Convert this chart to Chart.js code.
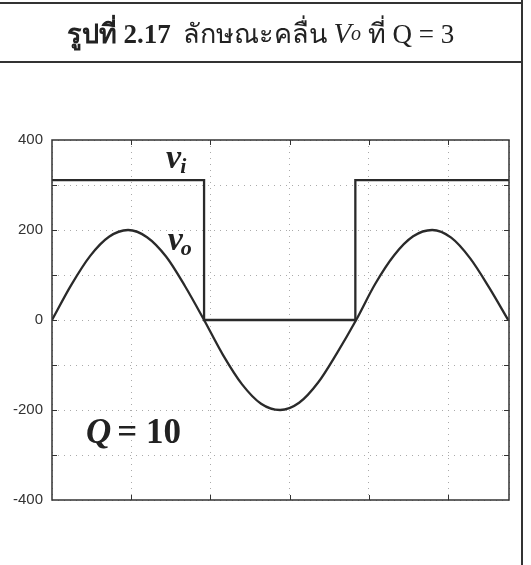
<!DOCTYPE html>
<html>
<head>
<meta charset="utf-8">
<script src="https://cdn.jsdelivr.net/npm/chart.js@4"></script>
<style>
    body { margin: 0; background: #fff; }
    #page { position: relative; width: 531px; height: 565px; overflow: hidden; }
    #waveChart { position: absolute; left: 0; top: 0; }
    .hline { position: absolute; left: 0; width: 523px; height: 2px; background: #333; }
    .vline { position: absolute; left: 521px; top: 0; width: 2px; height: 565px; background: #333; }
    #title {
        position: absolute; left: 0; top: 4px; width: 521px; height: 58px;
        display: flex; align-items: center; justify-content: center;
        font-family: 'Liberation Serif', 'Noto Serif', serif; font-size: 27px; color: #222;
    }
    #title b { margin-right: 12px; }
    #title .vo { font-size: 29px; }
    #title sub { font-size: 20px; vertical-align: -6px; }
</style>
</head>
<body>
<div id="page">
    <canvas id="waveChart" width="531" height="565"></canvas>
    <div class="hline" style="top: 2px;"></div>
    <div class="hline" style="top: 61px;"></div>
    <div class="vline"></div>
    <div id="title"><b>รูปที่ 2.17</b>ลักษณะคลื่น&nbsp;<i class="vo">V</i><sub><i>o</i></sub>&nbsp;ที่ Q = 3</div>
</div>
<script>
// time axis (grid divisions) and voltage axis
const timeMin = 0;
const timeMax = 5.77;
const voltMin = -400;
const voltMax = 400;

// square input voltage v_i (stepped)
const viTimes = [0, 1.92, 3.83, 5.77];
const viValues = [311, 0, 311, 311];

// output voltage v_o
const voTimes = [0, 0.24, 0.48, 0.72, 0.96, 1.2, 1.44, 1.68, 1.92, 2.16, 2.4, 2.64, 2.88,
    3.12, 3.36, 3.6, 3.84, 4.08, 4.32, 4.56, 4.8, 5.04, 5.28, 5.52, 5.76];
const voValues = [0, 77, 142, 185, 200, 184, 141, 75, 0, -78, -143, -186, -200,
    -184, -139, -73, 0, 80, 144, 186, 200, 183, 137, 72, 0];

const toPoints = (xs, ys) => xs.map((x, i) => ({ x: x, y: ys[i] }));

// inward tick marks, plot frame and the v_i / v_o / Q labels
const framePlugin = {
    id: 'frame',
    afterDatasetsDraw(chart) {
        const { ctx, chartArea: a, scales: { x, y } } = chart;
        ctx.save();
        ctx.strokeStyle = '#333';
        ctx.lineWidth = 1;
        ctx.beginPath();
        for (let v = -300; v <= 300; v += 100) {
            const py = Math.round(y.getPixelForValue(v)) + 0.5;
            ctx.moveTo(a.left, py); ctx.lineTo(a.left + 5, py);
            ctx.moveTo(a.right, py); ctx.lineTo(a.right - 5, py);
        }
        for (let t = 1; t <= 5; t++) {
            const px = Math.round(x.getPixelForValue(t)) + 0.5;
            ctx.moveTo(px, a.top); ctx.lineTo(px, a.top + 5);
            ctx.moveTo(px, a.bottom); ctx.lineTo(px, a.bottom - 5);
        }
        ctx.stroke();
        ctx.lineWidth = 1.5;
        ctx.strokeRect(a.left, a.top, a.right - a.left, a.bottom - a.top);

        ctx.fillStyle = '#222';
        ctx.textBaseline = 'alphabetic';
        const serif = "'Liberation Serif', serif";
        // v_i
        let px = x.getPixelForValue(1.44), py = y.getPixelForValue(338);
        ctx.font = 'italic bold 34px ' + serif;
        ctx.fillText('v', px, py);
        let w = ctx.measureText('v').width;
        ctx.font = 'italic bold 22px ' + serif;
        ctx.fillText('i', px + w - 1, py + 5);
        // v_o
        px = x.getPixelForValue(1.46); py = y.getPixelForValue(156);
        ctx.font = 'italic bold 34px ' + serif;
        ctx.fillText('v', px, py);
        w = ctx.measureText('v').width;
        ctx.font = 'italic bold 22px ' + serif;
        ctx.fillText('o', px + w - 2, py + 5);
        // Q = 10
        px = x.getPixelForValue(0.43); py = y.getPixelForValue(-273);
        ctx.font = 'italic bold 35px ' + serif;
        ctx.fillText('Q', px, py);
        w = ctx.measureText('Q').width;
        ctx.font = 'bold 35px ' + serif;
        ctx.fillText('= 10', px + w + 6, py);
        ctx.restore();
    }
};

const ctx = document.getElementById('waveChart').getContext('2d');
new Chart(ctx, {
    type: 'line',
    data: {
        datasets: [{
            label: 'vi',
            data: toPoints(viTimes, viValues),
            stepped: true,
            borderColor: '#2a2a2a',
            borderWidth: 2.3,
            pointRadius: 0,
            fill: false
        }, {
            label: 'vo',
            data: toPoints(voTimes, voValues),
            cubicInterpolationMode: 'monotone',
            borderColor: '#2a2a2a',
            borderWidth: 2.3,
            pointRadius: 0,
            fill: false
        }]
    },
    options: {
        responsive: false,
        animation: false,
        layout: {
            padding: { left: 0, top: 140, right: 22, bottom: 65 }
        },
        scales: {
            x: {
                type: 'linear',
                min: timeMin,
                max: timeMax,
                ticks: { display: false, stepSize: 1 },
                grid: { color: '#aaa', lineWidth: 1, drawTicks: false },
                border: { display: false, dash: [1, 5] },
                afterFit: scale => { scale.height = 0; }
            },
            y: {
                min: voltMin,
                max: voltMax,
                ticks: {
                    stepSize: 100,
                    padding: 9,
                    color: '#333',
                    font: { family: "'Liberation Sans', Arial, sans-serif", size: 15 },
                    callback: v => (v % 200 === 0 ? String(v) : '')
                },
                grid: { color: '#aaa', lineWidth: 1, drawTicks: false },
                border: { display: false, dash: [1, 5] },
                afterFit: scale => { scale.width = 52; }
            }
        },
        plugins: {
            legend: { display: false },
            tooltip: { enabled: false }
        }
    },
    plugins: [framePlugin]
});
</script>
</body>
</html>
